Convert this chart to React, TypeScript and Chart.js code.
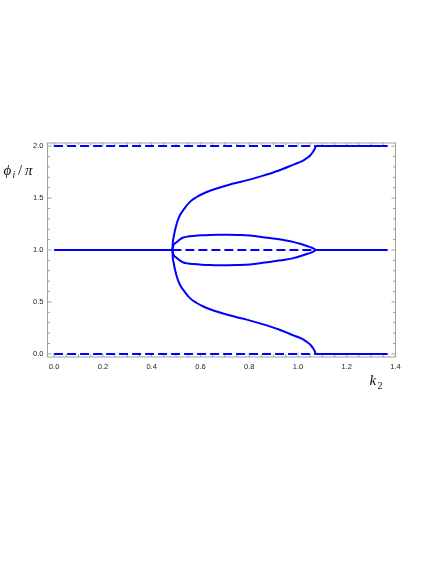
import React, { useEffect, useRef } from 'react';
import { Chart, registerables } from 'chart.js';

Chart.register(...registerables);

// ---- data ----
const kStart = 0;
const bifurcationK = 0.485;
const mergeK = 1.073;
const endK = 1.368;
const levels = [0, 1, 2];

const outerK = [0.485, 0.487, 0.49, 0.496, 0.505, 0.516, 0.535, 0.557, 0.585, 0.612, 0.645, 0.68, 0.715, 0.749, 0.79, 0.851, 0.919, 0.987, 1.015, 1.035, 1.05, 1.062, 1.069, 1.073];
const outerUpper = [1.0, 1.08, 1.12, 1.19, 1.27, 1.335, 1.4, 1.463, 1.51, 1.544, 1.575, 1.602, 1.626, 1.647, 1.67, 1.711, 1.763, 1.827, 1.853, 1.882, 1.91, 1.946, 1.975, 2.0];
const outerLower = [1.0, 0.92, 0.88, 0.81, 0.73, 0.665, 0.6, 0.537, 0.49, 0.456, 0.425, 0.398, 0.374, 0.353, 0.33, 0.289, 0.237, 0.173, 0.147, 0.118, 0.09, 0.054, 0.025, 0.0];

const loopK = [0.485, 0.488, 0.493, 0.503, 0.515, 0.53, 0.55, 0.571, 0.605, 0.639, 0.675, 0.708, 0.75, 0.803, 0.864, 0.946, 0.985, 1.015, 1.04, 1.056, 1.066, 1.073];
const loopUpper = [1.0, 1.035, 1.058, 1.077, 1.1, 1.12, 1.13, 1.135, 1.141, 1.145, 1.147, 1.146, 1.144, 1.139, 1.12, 1.094, 1.076, 1.055, 1.036, 1.023, 1.011, 1.0];
const loopLower = [1.0, 0.965, 0.942, 0.923, 0.9, 0.88, 0.87, 0.865, 0.859, 0.855, 0.853, 0.854, 0.856, 0.861, 0.88, 0.906, 0.924, 0.945, 0.964, 0.977, 0.989, 1.0];

const xTickValues = [0, 0.2, 0.4, 0.6, 0.8, 1.0, 1.2, 1.4];
const xTickLabels = ['0.0', '0.2', '0.4', '0.6', '0.8', '1.0', '1.2', '1.4'];
const yTickValues = [0, 0.5, 1.0, 1.5, 2.0];
const yTickLabels = ['0.0', '0.5', '1.0', '1.5', '2.0'];

const xRange = [-0.027, 1.4];
const yRange = [-0.03, 2.03];

const BLUE = '#0000ff';
const DASH = [9, 4];

const zip = (xs: number[], ys: number[]) => xs.map((x, i) => ({ x, y: ys[i] }));
const seg = (x0: number, x1: number, y: number) => [{ x: x0, y }, { x: x1, y }];

const framePlugin = {
  id: 'mmaFrame',
  beforeDatasetsDraw(chart: any) {
    const { ctx, chartArea: a, scales } = chart;
    const xs = scales.x;
    const ys = scales.y;
    ctx.save();
    ctx.strokeStyle = '#a0a0a0';
    ctx.lineWidth = 1;
    ctx.strokeRect(a.left, a.top, a.right - a.left, a.bottom - a.top);
    ctx.beginPath();
    for (let i = 0; i <= 28; i++) {
      const v = i * 0.05;
      const px = xs.getPixelForValue(v);
      const len = i % 4 === 0 ? 4 : 2.5;
      ctx.moveTo(px, a.bottom);
      ctx.lineTo(px, a.bottom - len);
      ctx.moveTo(px, a.top);
      ctx.lineTo(px, a.top + len);
    }
    for (let i = 0; i <= 20; i++) {
      const v = i * 0.1;
      const py = ys.getPixelForValue(v);
      const len = i % 5 === 0 ? 4 : 2.5;
      ctx.moveTo(a.left, py);
      ctx.lineTo(a.left + len, py);
      ctx.moveTo(a.right, py);
      ctx.lineTo(a.right - len, py);
    }
    ctx.stroke();
    ctx.restore();
  },
  afterDraw(chart: any) {
    const { ctx, chartArea: a, scales } = chart;
    const xs = scales.x;
    const ys = scales.y;
    ctx.save();
    ctx.fillStyle = '#222';
    ctx.font = '7.5px "Liberation Sans", Arial, sans-serif';
    ctx.textAlign = 'center';
    ctx.textBaseline = 'middle';
    xTickValues.forEach((v, i) => {
      ctx.fillText(xTickLabels[i], xs.getPixelForValue(v), a.bottom + 9.5);
    });
    ctx.textAlign = 'right';
    yTickValues.forEach((v, i) => {
      ctx.fillText(yTickLabels[i], a.left - 4, ys.getPixelForValue(v));
    });

    // axis titles
    ctx.fillStyle = '#111';
    ctx.textAlign = 'left';
    ctx.textBaseline = 'alphabetic';
    const big = 'italic 15px "Liberation Serif", "DejaVu Serif", serif';
    const small = 'italic 10px "Liberation Serif", "DejaVu Serif", serif';
    const up = '15px "Liberation Serif", "DejaVu Serif", serif';
    const upSmall = '10px "Liberation Serif", "DejaVu Serif", serif';
    ctx.font = big;
    ctx.fillText('\u03D5', 3.5, 174.5);
    ctx.font = small;
    ctx.fillText('i', 12.5, 177.5);
    ctx.font = up;
    ctx.fillText('/', 18, 174.5);
    ctx.font = big;
    ctx.fillText('\u03C0', 25, 174.5);

    ctx.font = big;
    ctx.fillText('k', 369.5, 385);
    ctx.font = upSmall;
    ctx.fillText('2', 377.5, 388.5);
    ctx.restore();
  },
};

export default function App() {
  const ref = useRef<HTMLCanvasElement>(null);

  useEffect(() => {
    if (!ref.current) return;
    const solid = (data: any[]) => ({
      data,
      borderColor: BLUE,
      borderWidth: 2,
      pointRadius: 0,
      showLine: true,
      fill: false,
      tension: 0,
    });
    const dashed = (data: any[]) => ({ ...solid(data), borderDash: DASH });
    const curve = (data: any[]) => ({ ...solid(data), tension: 0.4, cubicInterpolationMode: 'monotone' });

    const datasets = [
      solid(seg(kStart, bifurcationK, levels[1])),
      dashed(seg(bifurcationK, mergeK, levels[1])),
      solid(seg(mergeK, endK, levels[1])),
      dashed(seg(kStart, mergeK, levels[2])),
      solid(seg(mergeK, endK, levels[2])),
      dashed(seg(kStart, mergeK, levels[0])),
      solid(seg(mergeK, endK, levels[0])),
      curve(zip(outerK, outerUpper)),
      curve(zip(outerK, outerLower)),
      curve(zip(loopK, loopUpper)),
      curve(zip(loopK, loopLower)),
    ];

    const chart = new Chart(ref.current, {
      type: 'scatter',
      data: { datasets: datasets as any },
      options: {
        animation: false,
        responsive: false,
        maintainAspectRatio: false,
        devicePixelRatio: 1,
        layout: { padding: { left: 47.5, right: 40.5, top: 143, bottom: 207 } },
        plugins: { legend: { display: false }, tooltip: { enabled: false } },
        scales: {
          x: { type: 'linear', display: false, min: xRange[0], max: xRange[1] },
          y: { type: 'linear', display: false, min: yRange[0], max: yRange[1] },
        },
      },
      plugins: [framePlugin],
    });
    return () => chart.destroy();
  }, []);

  return (
    <div style={{ position: 'absolute', left: 0, top: 0, width: 436, height: 564, background: '#fff' }}>
      <canvas ref={ref} width={436} height={564} style={{ display: 'block', width: 436, height: 564 }} />
    </div>
  );
}
